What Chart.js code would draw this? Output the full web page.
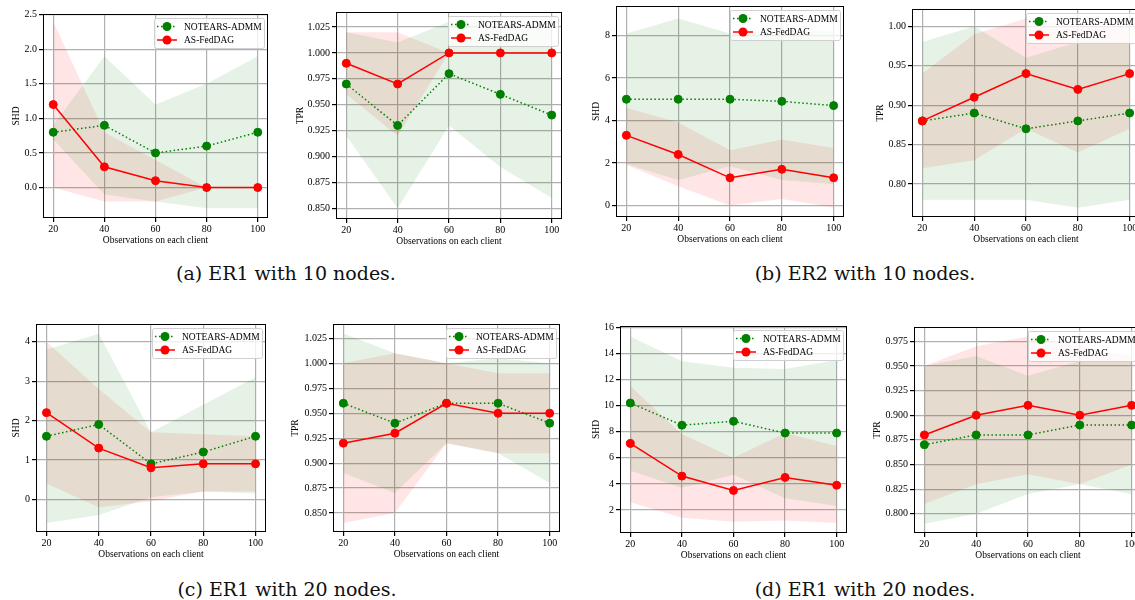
<!DOCTYPE html>
<html>
<head>
<meta charset="utf-8">
<script src="https://cdn.jsdelivr.net/npm/chart.js@4.4.0/dist/chart.umd.min.js"></script>
<style>
html, body { margin: 0; padding: 0; background: #fff; }
#fig { position: relative; width: 1135px; height: 600px; overflow: hidden; }
#fig canvas { position: absolute; }
.cap { position: absolute; width: 400px; text-align: center; font-family: 'DejaVu Serif', serif; font-size: 19px; line-height: 22px; color: #111; }
</style>
</head>
<body>
<div id="fig">
  <canvas id="c1"></canvas><canvas id="c2"></canvas><canvas id="c3"></canvas><canvas id="c4"></canvas>
  <canvas id="c5"></canvas><canvas id="c6"></canvas><canvas id="c7"></canvas><canvas id="c8"></canvas>
  <div class="cap" style="left:86px;top:262px">(a) ER1 with 10 nodes.</div>
  <div class="cap" style="left:665px;top:262px">(b) ER2 with 10 nodes.</div>
  <div class="cap" style="left:87px;top:578px">(c) ER1 with 20 nodes.</div>
  <div class="cap" style="left:665px;top:578px">(d) ER1 with 20 nodes.</div>
</div>
<script>
const observations = [20, 40, 60, 80, 100];
const xTicks = [20, 40, 60, 80, 100];

// (a) ER1, 10 nodes - SHD
const aShdNotears   = [0.8, 0.9, 0.5, 0.6, 0.8];
const aShdNotearsHi = [0.9, 1.9, 1.2, 1.5, 1.9];
const aShdNotearsLo = [0.7, -0.1, -0.2, -0.3, -0.3];
const aShdFed       = [1.2, 0.3, 0.1, 0.0, 0.0];
const aShdFedHi     = [2.4, 0.8, 0.4, 0.0, 0.0];
const aShdFedLo     = [0.0, -0.2, -0.2, 0.0, 0.0];
const aShdTicks     = [0, 0.5, 1.0, 1.5, 2.0, 2.5];

// (a) ER1, 10 nodes - TPR
const aTprNotears   = [0.97, 0.93, 0.98, 0.96, 0.94];
const aTprNotearsHi = [1.02, 1.01, 1.03, 1.03, 1.03];
const aTprNotearsLo = [0.92, 0.85, 0.93, 0.89, 0.86];
const aTprFed       = [0.99, 0.97, 1.0, 1.0, 1.0];
const aTprFedHi     = [1.02, 1.02, 1.0, 1.0, 1.0];
const aTprFedLo     = [0.96, 0.92, 1.0, 1.0, 1.0];
const aTprTicks     = [0.85, 0.875, 0.9, 0.925, 0.95, 0.975, 1.0, 1.025];

// (b) ER2, 10 nodes - SHD
const bShdNotears   = [5.0, 5.0, 5.0, 4.9, 4.7];
const bShdNotearsHi = [8.1, 8.8, 8.1, 8.3, 8.2];
const bShdNotearsLo = [1.95, 1.2, 1.85, 1.2, 1.0];
const bShdFed       = [3.3, 2.4, 1.3, 1.7, 1.3];
const bShdFedHi     = [4.6, 3.9, 2.6, 3.1, 2.7];
const bShdFedLo     = [1.9, 0.9, 0.0, 0.3, -0.1];
const bShdTicks     = [0, 2, 4, 6, 8];

// (b) ER2, 10 nodes - TPR
const bTprNotears   = [0.88, 0.89, 0.87, 0.88, 0.89];
const bTprNotearsHi = [0.98, 1.0, 0.96, 0.98, 0.98];
const bTprNotearsLo = [0.78, 0.78, 0.78, 0.77, 0.78];
const bTprFed       = [0.88, 0.91, 0.94, 0.92, 0.94];
const bTprFedHi     = [0.94, 0.99, 1.01, 1.0, 1.0];
const bTprFedLo     = [0.82, 0.83, 0.87, 0.84, 0.87];
const bTprTicks     = [0.80, 0.85, 0.90, 0.95, 1.00];

// (c) ER1, 20 nodes - SHD
const cShdNotears   = [1.6, 1.9, 0.9, 1.2, 1.6];
const cShdNotearsHi = [3.8, 4.2, 1.7, 2.4, 3.1];
const cShdNotearsLo = [-0.6, -0.4, 0.05, 0.2, 0.15];
const cShdFed       = [2.2, 1.3, 0.8, 0.9, 0.9];
const cShdFedHi     = [4.0, 2.8, 1.7, 1.65, 1.6];
const cShdFedLo     = [0.4, -0.2, -0.05, 0.2, 0.2];
const cShdTicks     = [0, 1, 2, 3, 4];

// (c) ER1, 20 nodes - TPR
const cTprNotears   = [0.96, 0.94, 0.96, 0.96, 0.94];
const cTprNotearsHi = [1.03, 1.01, 1.0, 1.005, 1.0];
const cTprNotearsLo = [0.89, 0.87, 0.92, 0.91, 0.88];
const cTprFed       = [0.92, 0.93, 0.96, 0.95, 0.95];
const cTprFedHi     = [1.0, 1.01, 1.0, 0.99, 0.99];
const cTprFedLo     = [0.84, 0.85, 0.92, 0.91, 0.91];
const cTprTicks     = [0.85, 0.875, 0.9, 0.925, 0.95, 0.975, 1.0, 1.025];

// (d) ER1, 20 nodes - SHD
const dShdNotears   = [10.2, 8.5, 8.8, 7.9, 7.9];
const dShdNotearsHi = [15.3, 13.4, 12.9, 12.8, 13.5];
const dShdNotearsLo = [5.0, 3.7, 4.7, 2.9, 2.3];
const dShdFed       = [7.1, 4.6, 3.5, 4.5, 3.9];
const dShdFedHi     = [11.5, 7.8, 6.0, 7.9, 6.9];
const dShdFedLo     = [2.6, 1.4, 1.1, 1.2, 1.0];
const dShdTicks     = [2, 4, 6, 8, 10, 12, 14, 16];

// (d) ER1, 20 nodes - TPR
const dTprNotears   = [0.87, 0.88, 0.88, 0.89, 0.89];
const dTprNotearsHi = [0.95, 0.96, 0.94, 0.955, 0.955];
const dTprNotearsLo = [0.79, 0.80, 0.82, 0.83, 0.82];
const dTprFed       = [0.88, 0.90, 0.91, 0.90, 0.91];
const dTprFedHi     = [0.95, 0.97, 0.98, 0.97, 0.96];
const dTprFedLo     = [0.81, 0.83, 0.84, 0.83, 0.85];
const dTprTicks     = [0.800, 0.825, 0.850, 0.875, 0.900, 0.925, 0.950, 0.975];

const GREEN = '#008000';
const RED = '#ff0000';
const SERIF = '"Liberation Serif", "Times New Roman", serif';

const pts = ys => observations.map((x, i) => ({ x, y: ys[i] }));

function band(hi, lo, fill) {
    const base = { borderWidth: 0, borderColor: 'rgba(0,0,0,0)', pointRadius: 0, order: 5, tension: 0 };
    return [
        Object.assign({}, base, { data: pts(hi), fill: '+1', backgroundColor: fill }),
        Object.assign({}, base, { data: pts(lo), fill: false })
    ];
}

function meanLine(label, ys, color, dashed, order) {
    return {
        label, data: pts(ys), borderColor: color, backgroundColor: color,
        borderWidth: 1.5, borderDash: dashed ? [1.5, 2.5] : [],
        pointRadius: 4, pointBorderWidth: 1, pointBackgroundColor: color, pointBorderColor: color,
        fill: false, order
    };
}

// black frame round the plot area
const frame = {
    id: 'frame',
    afterDatasetsDraw(chart) {
        const { ctx, chartArea: a } = chart;
        ctx.save();
        ctx.strokeStyle = '#000';
        ctx.lineWidth = 1;
        ctx.strokeRect(a.left + 0.5, a.top + 0.5, a.right - a.left - 1, a.bottom - a.top - 1);
        ctx.restore();
    }
};

// matplotlib-style legend box in the upper right corner
const legendBox = {
    id: 'legendBox',
    afterDraw(chart) {
        const { ctx, chartArea: a } = chart;
        const w = 110, h = 30;
        const x = Math.round(a.right - 4 - w), y = Math.round(a.top + 4);
        ctx.save();
        ctx.beginPath();
        ctx.roundRect(x + 0.5, y + 0.5, w, h, 2);
        ctx.fillStyle = 'rgba(255,255,255,0.8)';
        ctx.fill();
        ctx.strokeStyle = '#d0d0d0';
        ctx.lineWidth = 1;
        ctx.stroke();
        const rows = chart.data.datasets.filter(d => d.label);
        rows.sort((p, q) => q.order - p.order);
        rows.forEach((d, i) => {
            const cy = y + 8.5 + i * 13.5;
            ctx.strokeStyle = d.borderColor;
            ctx.lineWidth = 1.5;
            ctx.setLineDash(d.borderDash);
            ctx.beginPath();
            ctx.moveTo(x + 3, cy);
            ctx.lineTo(x + 23, cy);
            ctx.stroke();
            ctx.setLineDash([]);
            ctx.fillStyle = d.borderColor;
            ctx.beginPath();
            ctx.arc(x + 13, cy, 4.5, 0, Math.PI * 2);
            ctx.fill();
            ctx.fillStyle = '#000';
            ctx.font = '9.5px ' + SERIF;
            ctx.textBaseline = 'middle';
            ctx.fillText(d.label, x + 30, cy + 0.5);
        });
        ctx.restore();
    }
};

function makePanel(id, box, yLabel, yTicks, dec, yMin, yMax, notears, fed) {
    const axisW = box.axisW, padTop = 10, padRight = 10, xAxisH = 32;
    const cv = document.getElementById(id);
    cv.width = box.R - box.L + axisW + padRight;
    cv.height = box.B - box.T + padTop + xAxisH;
    cv.style.left = (box.L - axisW) + 'px';
    cv.style.top = (box.T - padTop) + 'px';

    const datasets = [
        ...band(notears.hi, notears.lo, 'rgba(0,128,0,0.1)'),
        ...band(fed.hi, fed.lo, 'rgba(255,0,0,0.1)'),
        meanLine('NOTEARS-ADMM', notears.mean, GREEN, true, 1),
        meanLine('AS-FedDAG', fed.mean, RED, false, 0)
    ];

    const tickFont = { family: SERIF, size: 10 };
    const titleFont = { family: SERIF, size: 9.5 };
    const grid = { color: '#b0b0b0', lineWidth: 1.2, tickColor: '#000', tickLength: 4 };
    new Chart(cv, {
        type: 'line',
        data: { datasets },
        options: {
            responsive: false, animation: false,
            layout: { padding: { left: 0, top: padTop, right: padRight, bottom: 0 } },
            plugins: { legend: { display: false }, tooltip: { enabled: false } },
            scales: {
                x: {
                    type: 'linear', min: 16, max: 104,
                    afterBuildTicks: s => { s.ticks = xTicks.map(v => ({ value: v })); },
                    afterFit: s => { s.height = xAxisH; },
                    grid, border: { display: false },
                    ticks: { color: '#000', font: tickFont, padding: 1, maxRotation: 0 },
                    title: { display: true, text: 'Observations on each client', color: '#000', font: titleFont }
                },
                y: {
                    type: 'linear', min: yMin, max: yMax,
                    afterBuildTicks: s => { s.ticks = yTicks.map(v => ({ value: v })); },
                    afterFit: s => { s.width = axisW; },
                    grid, border: { display: false },
                    ticks: { color: '#000', font: tickFont, padding: 2, callback: v => Number(v).toFixed(dec) },
                    title: { display: true, text: yLabel, color: '#000', font: titleFont }
                }
            }
        },
        plugins: [frame, legendBox]
    });
}

makePanel('c1', { L: 43, T: 14, R: 268, B: 218, axisW: 36 }, 'SHD', aShdTicks, 1, -0.44, 2.51,
    { mean: aShdNotears, hi: aShdNotearsHi, lo: aShdNotearsLo }, { mean: aShdFed, hi: aShdFedHi, lo: aShdFedLo });
makePanel('c2', { L: 336, T: 12, R: 562, B: 219, axisW: 45 }, 'TPR', aTprTicks, 3, 0.8397, 1.0395,
    { mean: aTprNotears, hi: aTprNotearsHi, lo: aTprNotearsLo }, { mean: aTprFed, hi: aTprFedHi, lo: aTprFedLo });
makePanel('c3', { L: 616, T: 6, R: 844, B: 217, axisW: 29 }, 'SHD', bShdTicks, 0, -0.545, 9.39,
    { mean: bShdNotears, hi: bShdNotearsHi, lo: bShdNotearsLo }, { mean: bShdFed, hi: bShdFedHi, lo: bShdFedLo });
makePanel('c4', { L: 912, T: 9, R: 1140, B: 217, axisW: 41 }, 'TPR', bTprTicks, 2, 0.7582, 1.0219,
    { mean: bTprNotears, hi: bTprNotearsHi, lo: bTprNotearsLo }, { mean: bTprFed, hi: bTprFedHi, lo: bTprFedLo });
makePanel('c5', { L: 36, T: 324, R: 266, B: 532, axisW: 29 }, 'SHD', cShdTicks, 0, -0.83, 4.45,
    { mean: cShdNotears, hi: cShdNotearsHi, lo: cShdNotearsLo }, { mean: cShdFed, hi: cShdFedHi, lo: cShdFedLo });
makePanel('c6', { L: 333, T: 324, R: 560, B: 532, axisW: 47 }, 'TPR', cTprTicks, 3, 0.831, 1.0394,
    { mean: cTprNotears, hi: cTprNotearsHi, lo: cTprNotearsLo }, { mean: cTprFed, hi: cTprFedHi, lo: cTprFedLo });
makePanel('c7', { L: 620, T: 326, R: 847, B: 533, axisW: 33 }, 'SHD', dShdTicks, 0, 0.24, 16.1,
    { mean: dShdNotears, hi: dShdNotearsHi, lo: dShdNotearsLo }, { mean: dShdFed, hi: dShdFedHi, lo: dShdFedLo });
makePanel('c8', { L: 914, T: 327, R: 1142, B: 533, axisW: 46 }, 'TPR', dTprTicks, 3, 0.7805, 0.9895,
    { mean: dTprNotears, hi: dTprNotearsHi, lo: dTprNotearsLo }, { mean: dTprFed, hi: dTprFedHi, lo: dTprFedLo });
</script>
</body>
</html>
